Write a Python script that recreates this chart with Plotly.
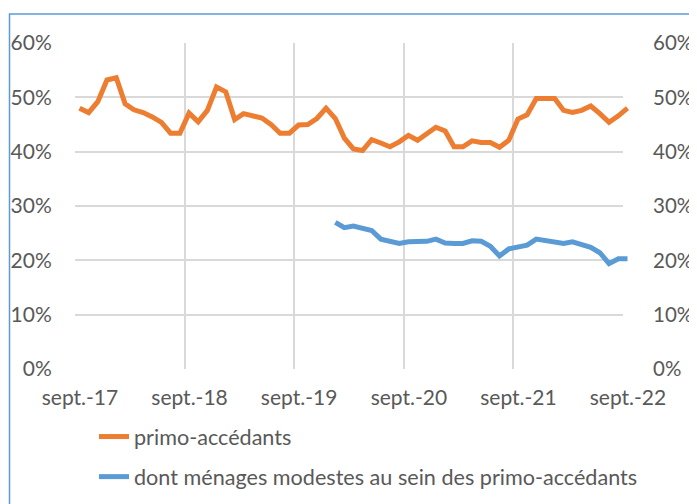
import plotly.graph_objects as go
import pandas as pd

# ---- data -------------------------------------------------------------
months = pd.date_range("2017-09-01", "2022-09-01", freq="MS")  # 61 months

primo_accedants = [
    48.0, 47.2, 49.2, 53.2, 53.6, 48.8, 47.7, 47.2, 46.4, 45.4, 43.4, 43.4,
    47.1, 45.5, 47.6, 51.9, 51.0, 45.9, 47.0, 46.7, 46.2, 45.0, 43.4, 43.4,
    44.9, 45.0, 46.1, 48.0, 46.1, 42.5, 40.5, 40.2, 42.2, 41.6, 40.9, 41.8,
    43.0, 42.1, 43.4, 44.5, 43.8, 40.9, 40.9, 42.0, 41.7, 41.7, 40.8, 42.1,
    46.0, 46.8, 49.8, 49.8, 49.8, 47.6, 47.2, 47.6, 48.4, 47.0, 45.4, 46.6,
    48.0,
]

modestes_start = "2020-01-01"
menages_modestes = [
    27.0, 26.0, 26.3, 26.0, 25.5, 23.9, 23.5, 23.1, 23.4, 23.4, 23.5, 23.9,
    23.2, 23.1, 23.1, 23.6, 23.5, 22.6, 20.8, 22.1, 22.4, 22.8, 23.9, 23.6,
    23.3, 23.1, 23.4, 22.9, 22.4, 21.4, 19.4, 20.3, 20.3,
]
modestes_months = pd.date_range(modestes_start, periods=len(menages_modestes), freq="MS")

series_names = ["primo-accédants", "dont ménages modestes au sein des primo-accédants"]
tick_labels = ["sept.-17", "sept.-18", "sept.-19", "sept.-20", "sept.-21", "sept.-22"]
y_ticks = [0, 10, 20, 30, 40, 50, 60]
y_tick_labels = ["0%", "10%", "20%", "30%", "40%", "50%", "60%"]

# ---- layout geometry (figure sits 8px inside the page) ------------------
W, H = 689, 496
L, R, T, B = 67, 65, 35, 135
plot_w = W - L - R           # width of the line-drawing area
grid_w = 548                 # width of the gridded area
x_dom_end = grid_w / plot_w
x_start, x_end = months[0], months[-1]
x2_end = x_start + (x_end - x_start) * (plot_w / grid_w)
plot_h = H - T - B

ORANGE = "#ED7D31"
BLUE = "#5B9BD5"
GRID = "#D9D9D9"
TXT = "#595959"
FONT = "Lato"
FS = 21

fig = go.Figure()
# empty helper trace so that the gridded x/y subplot is created
fig.add_trace(go.Scatter(x=[], y=[], xaxis="x", yaxis="y", showlegend=False,
                         hoverinfo="skip"))
fig.add_trace(go.Scatter(
    x=months, y=primo_accedants, name=series_names[0], mode="lines",
    line=dict(color=ORANGE, width=5), xperiod="M1", xperiodalignment="middle",
    xaxis="x2", yaxis="y2", legendgroup="a"))
fig.add_trace(go.Scatter(
    x=modestes_months, y=menages_modestes, name=series_names[1], mode="lines",
    line=dict(color=BLUE, width=5), xperiod="M1", xperiodalignment="middle",
    xaxis="x2", yaxis="y2", legendgroup="b"))

tick_dates = months[::12]

fig.update_layout(
    width=W, height=H,
    margin=dict(l=L, r=R, t=T, b=B, autoexpand=False),
    paper_bgcolor="white", plot_bgcolor="rgba(0,0,0,0)",
    font=dict(family=FONT, size=FS, color=TXT),
    showlegend=True,
    legend=dict(x=(86 - L) / plot_w, y=(H - B - 408) / plot_h, xanchor="left", yanchor="top",
                orientation="v", traceorder="grouped", tracegroupgap=9,
                font=dict(family=FONT, size=21.6, color=TXT), itemwidth=30,
                bgcolor="rgba(0,0,0,0)"),
    xaxis=dict(domain=[0, x_dom_end], range=[x_start, x_end], type="date",
               tickvals=tick_dates, ticktext=tick_labels, ticklabelshift=5,
               showgrid=True, gridcolor=GRID, gridwidth=1.5,
               ticks="outside", ticklen=10, tickcolor="rgba(0,0,0,0)",
               showline=False, zeroline=False, anchor="y",
               tickfont=dict(family=FONT, size=FS, color=TXT)),
    yaxis=dict(domain=[0, 1], range=[0, 60], tickvals=y_ticks, ticktext=y_tick_labels,
               showgrid=True, gridcolor=GRID, gridwidth=1.5, zeroline=False,
               ticks="outside", ticklen=18, tickcolor="rgba(0,0,0,0)",
               showline=False, anchor="x",
               tickfont=dict(family=FONT, size=FS, color=TXT)),
    xaxis2=dict(domain=[0, 1], range=[x_start, x2_end], type="date", visible=False,
                showgrid=False, zeroline=False, anchor="y2"),
    yaxis2=dict(domain=[0, 1], range=[0, 60], side="right", anchor="free",
                position=x_dom_end, tickvals=y_ticks, ticktext=y_tick_labels,
                showgrid=False, zeroline=False,
                ticks="outside", ticklen=25, tickcolor="rgba(0,0,0,0)",
                showline=False,
                tickfont=dict(family=FONT, size=20.5, color=TXT)),
    shapes=[dict(type="rect", xref="paper", yref="paper",
                 x0=(1.5 - L) / plot_w, x1=1.5,
                 y0=-1.0, y1=(H - B - 6) / plot_h,
                 line=dict(color=BLUE, width=1.5), fillcolor="rgba(0,0,0,0)",
                 layer="above")],
)

fig.write_html("out.html")
